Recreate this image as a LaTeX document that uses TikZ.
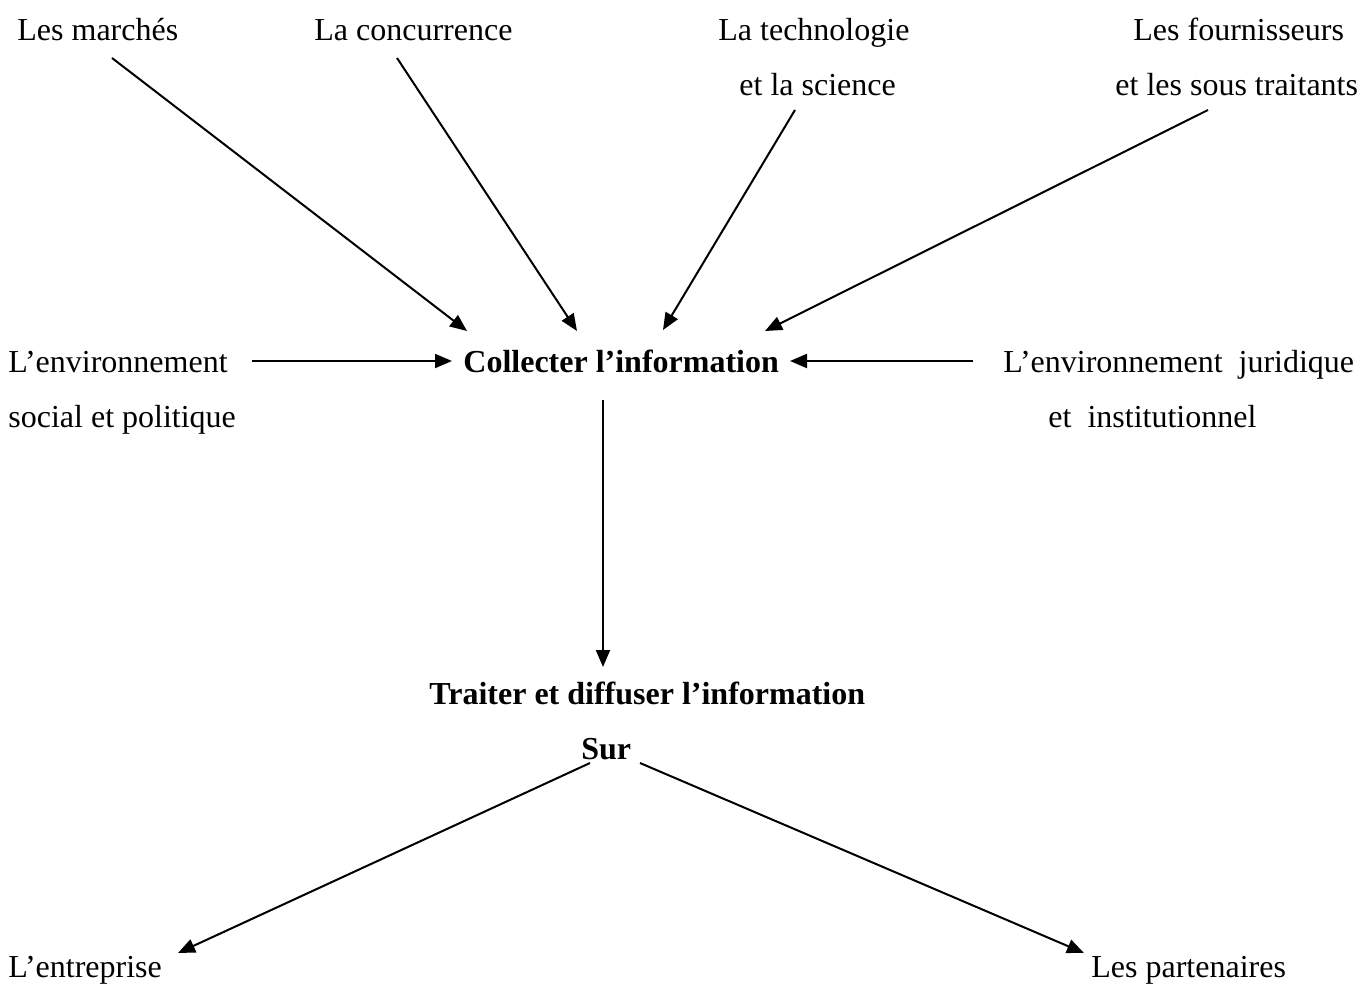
\documentclass[tikz,border=0pt]{standalone}
\usepackage{fontspec}
\setmainfont{Liberation Serif}
\usetikzlibrary{arrows.meta}
\tikzset{
  lbl/.style={anchor=base west, inner sep=0pt, font=\fontsize{16}{19}\selectfont},
  blbl/.style={lbl, font=\fontsize{16}{19}\selectfont\bfseries},
  arr/.style={line width=1pt, -{Triangle[length=8.5pt,width=7pt]}}
}
\begin{document}
\begin{tikzpicture}[x=0.5pt,y=-0.5pt]
\useasboundingbox[fill=white] (0,0) rectangle (1365,984);
% labels
\node[lbl] (marches) at (17,41) {Les marchés};
\node[lbl] (concur) at (314,41) {La concurrence};
\node[lbl] (techA) at (718,41) {La technologie};
\node[lbl] (techB) at (739,96) {et la science};
\node[lbl] (fourA) at (1133,41) {Les fournisseurs};
\node[lbl] (fourB) at (1115,96) {et les sous traitants};
\node[lbl] (socA) at (8,372) {L’environnement};
\node[lbl] (socB) at (8,427) {social et politique};
\node[blbl] (collect) at (463,372) {Collecter l’information};
\node[lbl] (jurA) at (1003,372) {L’environnement\ \ juridique};
\node[lbl] (jurB) at (1048,427) {et\ \ institutionnel};
\node[blbl] (traiter) at (429,704) {Traiter et diffuser l’information};
\node[blbl] (sur) at (581,759) {Sur};
\node[lbl] (entr) at (8,977) {L’entreprise};
\node[lbl] (part) at (1091,977) {Les partenaires};
% connector end points
\coordinate (m1) at (112,58);   \coordinate (m2) at (467,331);
\coordinate (c1) at (397,58);   \coordinate (c2) at (577,331);
\coordinate (t1) at (795,110);  \coordinate (t2) at (663,330);
\coordinate (f1) at (1208,110); \coordinate (f2) at (765,331);
\coordinate (s1) at (252,361);  \coordinate (s2) at (452,361);
\coordinate (j1) at (973,361);  \coordinate (j2) at (790,361);
\coordinate (v1) at (603,400);  \coordinate (v2) at (603,667);
\coordinate (l1) at (590,763);  \coordinate (l2) at (178,953);
\coordinate (r1) at (640,763);  \coordinate (r2) at (1084,953);
% connectors
\draw[arr] (m1) -- (m2);
\draw[arr] (c1) -- (c2);
\draw[arr] (t1) -- (t2);
\draw[arr] (f1) -- (f2);
\draw[arr] (s1) -- (s2);
\draw[arr] (j1) -- (j2);
\draw[arr] (v1) -- (v2);
\draw[arr] (l1) -- (l2);
\draw[arr] (r1) -- (r2);
\end{tikzpicture}
\end{document}
